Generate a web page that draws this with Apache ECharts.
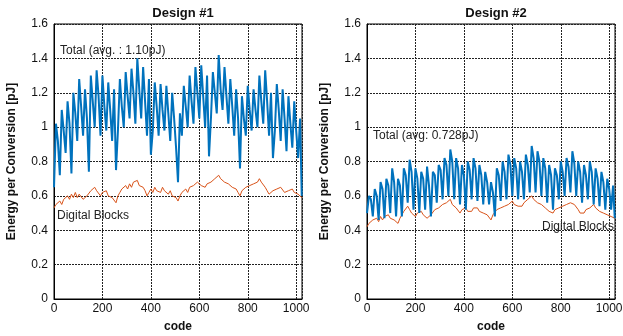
<!DOCTYPE html>
<html>
<head>
<meta charset="utf-8">
<script src="https://cdn.jsdelivr.net/npm/echarts@6/dist/echarts.min.js"></script>
<style>
  html, body { margin: 0; padding: 0; background: #fff; }
  #chart { width: 623px; height: 336px; }
</style>
</head>
<body>
<div id="chart"></div>
<script>
// energy per conversion, sampled every 8 codes (last point is code 1023)
const total1 = [
  0.65,1.02,0.92,0.72,1.10,0.98,0.85,1.15,1.02,0.73,1.20,1.08,0.92,1.28,1.12,0.95,
  1.22,1.05,0.74,1.30,1.15,1.00,1.33,1.18,0.95,1.30,1.12,0.98,1.26,1.10,0.92,1.22,
  0.75,0.98,1.28,1.12,1.00,1.32,1.18,1.05,1.34,1.20,1.02,1.40,1.22,1.05,1.35,1.15,
  0.95,1.28,0.84,0.98,1.26,1.12,0.95,1.25,1.10,0.98,1.24,1.08,0.92,1.20,1.05,0.88,
  0.68,1.08,0.95,1.24,1.12,1.00,1.30,1.15,1.02,1.35,1.20,1.05,1.36,1.18,1.00,1.30,
  0.83,1.05,1.32,1.20,1.08,1.42,1.22,1.10,1.35,1.18,1.02,1.28,1.12,0.95,1.22,1.05,
  0.76,1.18,1.05,0.95,1.24,1.10,0.98,1.22,1.10,1.00,1.30,1.15,1.02,1.33,1.15,0.95,
  1.20,0.82,0.98,1.25,1.10,0.92,1.22,1.05,0.86,1.18,1.02,0.88,1.15,0.98,0.82,1.05,
  0.60
];
const digital1 = [
  0.53,0.55,0.54,0.57,0.55,0.58,0.57,0.60,0.58,0.61,0.59,0.62,0.59,0.61,0.60,0.58,
  0.57,0.60,0.61,0.63,0.62,0.65,0.63,0.62,0.60,0.62,0.61,0.63,0.60,0.61,0.59,0.58,
  0.56,0.60,0.62,0.64,0.63,0.66,0.64,0.67,0.65,0.68,0.67,0.69,0.66,0.67,0.65,0.63,
  0.60,0.62,0.64,0.62,0.65,0.63,0.64,0.62,0.65,0.63,0.64,0.61,0.63,0.60,0.61,0.59,
  0.57,0.60,0.62,0.61,0.64,0.62,0.65,0.64,0.66,0.65,0.68,0.69,0.66,0.67,0.65,0.67,
  0.66,0.68,0.67,0.70,0.69,0.72,0.70,0.71,0.68,0.69,0.67,0.68,0.65,0.66,0.64,0.62,
  0.60,0.63,0.62,0.65,0.64,0.66,0.65,0.67,0.66,0.68,0.70,0.68,0.67,0.65,0.63,0.61,
  0.60,0.63,0.62,0.64,0.63,0.65,0.64,0.62,0.61,0.63,0.62,0.64,0.62,0.63,0.61,0.60,
  0.59
];
const total2 = [
  0.50,0.60,0.58,0.48,0.64,0.60,0.46,0.68,0.64,0.47,0.70,0.66,0.50,0.76,0.68,0.48,
  0.70,0.66,0.48,0.76,0.72,0.56,0.81,0.74,0.52,0.76,0.70,0.50,0.74,0.70,0.52,0.77,
  0.66,0.48,0.74,0.72,0.56,0.78,0.75,0.58,0.82,0.78,0.60,0.87,0.80,0.58,0.82,0.76,
  0.55,0.78,0.72,0.52,0.80,0.75,0.58,0.82,0.76,0.57,0.78,0.72,0.55,0.74,0.68,0.55,
  0.68,0.62,0.48,0.76,0.72,0.57,0.80,0.74,0.58,0.84,0.78,0.60,0.82,0.76,0.58,0.80,
  0.74,0.58,0.84,0.78,0.62,0.89,0.82,0.62,0.86,0.80,0.60,0.82,0.76,0.56,0.78,0.72,
  0.52,0.76,0.72,0.58,0.80,0.74,0.60,0.82,0.77,0.62,0.86,0.79,0.60,0.80,0.74,0.56,
  0.78,0.72,0.58,0.80,0.74,0.55,0.76,0.70,0.54,0.74,0.68,0.52,0.70,0.64,0.52,0.66,
  0.47
];
const digital2 = [
  0.42,0.44,0.43,0.46,0.45,0.47,0.45,0.48,0.46,0.48,0.47,0.49,0.47,0.48,0.46,0.45,
  0.44,0.47,0.49,0.51,0.50,0.54,0.52,0.50,0.49,0.48,0.50,0.49,0.51,0.49,0.48,0.47,
  0.46,0.49,0.50,0.52,0.51,0.53,0.52,0.55,0.54,0.56,0.55,0.58,0.55,0.56,0.53,0.52,
  0.50,0.52,0.51,0.53,0.51,0.52,0.51,0.53,0.52,0.53,0.51,0.52,0.50,0.51,0.49,0.48,
  0.46,0.49,0.50,0.52,0.51,0.53,0.52,0.54,0.53,0.55,0.56,0.57,0.55,0.56,0.54,0.55,
  0.54,0.56,0.57,0.58,0.57,0.60,0.58,0.59,0.56,0.57,0.55,0.56,0.53,0.54,0.51,0.52,
  0.50,0.52,0.51,0.53,0.52,0.54,0.53,0.55,0.54,0.56,0.57,0.55,0.54,0.52,0.50,0.51,
  0.50,0.52,0.51,0.53,0.52,0.55,0.53,0.52,0.51,0.52,0.50,0.51,0.49,0.50,0.48,0.49,
  0.47
];
const titles = ['Design #1', 'Design #2'];
const totalLabels = ['Total (avg. : 1.10pJ)', 'Total (avg: 0.728pJ)'];
const digitalLabel = 'Digital Blocks';

const blue = '#0072BD';
const orange = '#D95319';
const font = 'Liberation Sans, Arial, sans-serif';

// sample index -> code
const toPairs = (arr) => arr.map((v, i) => [Math.min(i * 8, 1023), v]);

const grids = [
  { left: 54, top: 24, width: 248, height: 275 },
  { left: 367, top: 24, width: 248, height: 275 },
];

const gridLine = { show: true, lineStyle: { color: '#222', type: [2, 1], width: 1 } };

const chart = echarts.init(document.getElementById('chart'));
chart.setOption({
  backgroundColor: '#fff',
  animation: false,
  title: titles.map((t, i) => ({
    text: t,
    left: grids[i].left + grids[i].width / 2,
    textAlign: 'center',
    top: 2,
    textStyle: { fontFamily: font, fontSize: 13, fontWeight: 'bold', color: '#111' },
  })),
  grid: grids.map((g) => ({
    ...g, show: true, borderColor: '#000', borderWidth: 1, backgroundColor: 'transparent',
    containLabel: false, outerBoundsMode: 'none',
  })),
  xAxis: grids.map((g, i) => ({
    type: 'value',
    gridIndex: i,
    min: 0,
    max: 1024,
    interval: 200,
    name: 'code',
    nameLocation: 'middle',
    nameGap: 22,
    nameTextStyle: { fontFamily: font, fontSize: 12, fontWeight: 'bold', color: '#111' },
    axisLine: { show: true, lineStyle: { color: '#000' } },
    axisTick: { show: false },
    axisLabel: {
      fontFamily: font, fontSize: 12, color: '#111', margin: 4,
      showMaxLabel: false,
      formatter: (v) => String(v),
    },
    splitLine: gridLine,
  })),
  yAxis: grids.map((g, i) => ({
    type: 'value',
    gridIndex: i,
    min: 0,
    max: 1.6,
    interval: 0.2,
    name: 'Energy per Conversion [pJ]',
    nameLocation: 'middle',
    nameGap: 36,
    nameTextStyle: { fontFamily: font, fontSize: 12, fontWeight: 'bold', color: '#111' },
    axisLine: { show: true, lineStyle: { color: '#000' } },
    axisTick: { show: false },
    axisLabel: { fontFamily: font, fontSize: 12, color: '#111', margin: 6 },
    splitLine: gridLine,
  })),
  series: [
    { name: 'Digital Blocks', type: 'line', xAxisIndex: 0, yAxisIndex: 0, data: toPairs(digital1),
      symbol: 'none', lineStyle: { color: orange, width: 1 }, z: 3 },
    { name: 'Total', type: 'line', xAxisIndex: 0, yAxisIndex: 0, data: toPairs(total1),
      symbol: 'none', lineStyle: { color: blue, width: 2 }, z: 4 },
    { name: 'Digital Blocks', type: 'line', xAxisIndex: 1, yAxisIndex: 1, data: toPairs(digital2),
      symbol: 'none', lineStyle: { color: orange, width: 1 }, z: 3 },
    { name: 'Total', type: 'line', xAxisIndex: 1, yAxisIndex: 1, data: toPairs(total2),
      symbol: 'none', lineStyle: { color: blue, width: 2 }, z: 4 },
  ],
  graphic: [
    { type: 'text', left: 60, top: 45, z: 10,
      style: { text: totalLabels[0], font: '12px ' + font, fill: '#222' } },
    { type: 'text', left: 57, top: 210, z: 10,
      style: { text: digitalLabel, font: '12px ' + font, fill: '#222' } },
    { type: 'text', left: 373, top: 130, z: 10,
      style: { text: totalLabels[1], font: '12px ' + font, fill: '#222' } },
    { type: 'text', right: 9, top: 221, z: 10,
      style: { text: digitalLabel, font: '12px ' + font, fill: '#222' } },
  ],
});
</script>
</body>
</html>
